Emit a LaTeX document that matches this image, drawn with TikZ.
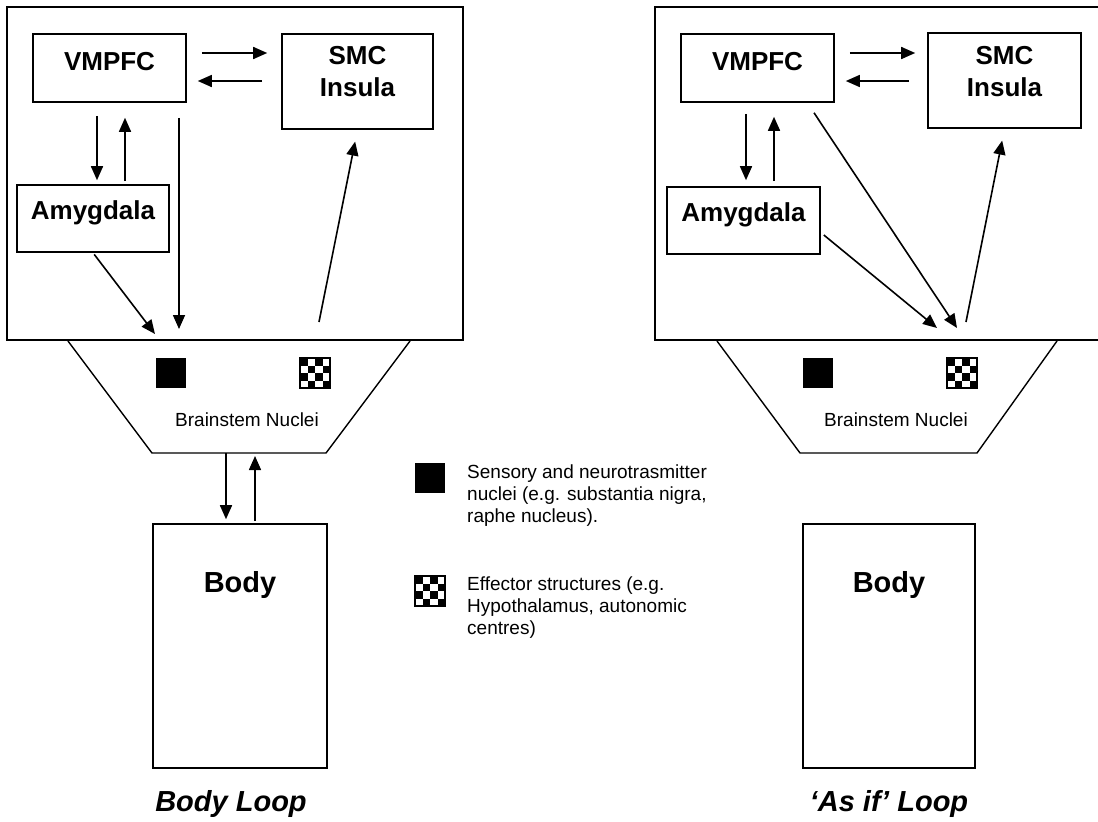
\documentclass[tikz,border=0pt]{standalone}
\usepackage{fontspec}
\setmainfont{Liberation Sans}
\usetikzlibrary{arrows.meta}

\tikzset{
  frame/.style={line width=1.8pt},
  box/.style={draw, line width=1.6pt, inner sep=0pt},
  lbl/.style={font=\fontsize{26pt}{32pt}\selectfont\bfseries, inner sep=0pt, anchor=north, align=center},
  arr/.style={line width=1.6pt, -{Triangle[length=14pt,width=12pt]}},
  stem/.style={line width=1.4pt},
  small/.style={font=\fontsize{19pt}{22pt}\selectfont, inner sep=0pt},
  title/.style={font=\fontsize{29pt}{34pt}\selectfont\bfseries\itshape, inner sep=0pt},
  nuc/.style={fill=black, minimum size=30pt, inner sep=0pt},
  eff/.style={draw, line width=1.5pt, minimum size=30pt, inner sep=0pt,
    path picture={
      \foreach \i in {0,...,3}{
        \foreach \j in {0,...,3}{
          \ifodd\numexpr\i+\j\relax\else
            \fill ([xshift=\i*7.5pt, yshift=-\j*7.5pt]path picture bounding box.north west) rectangle ++(7.5pt,-7.5pt);
          \fi}}}}
}

\begin{document}
\begin{tikzpicture}[x=1pt, y=-1pt]
  \useasboundingbox (0,0) rectangle (1098,822);

  % body loop
  \draw[frame] (7,7) rectangle (463,340);
  \node[box, minimum width=153pt, minimum height=68pt, label={[lbl, yshift=-19pt]north:VMPFC}] (vmL) at (109.5,68) {};
  \node[box, minimum width=151pt, minimum height=95pt, label={[lbl, yshift=-13pt]north:SMC\\Insula}] (smL) at (357.5,81.5) {};
  \node[box, minimum width=152pt, minimum height=67pt, label={[lbl, yshift=-16pt]north:Amygdala}] (amL) at (93,218.5) {};

  \draw[stem] (68,341) -- (152,453) -- (326,453) -- (410,341);
  \coordinate (bsL) at (240,453);
  \coordinate (inL1) at (155,334);
  \coordinate (inL2) at (179,329);
  \coordinate (outL) at (319,322);
  \node[nuc] (nuL) at (170.5,373) {};
  \node[eff] (efL) at (315,373) {};
  \node[small] (bnL) at (247,420) {Brainstem Nuclei};

  \node[box, minimum width=174pt, minimum height=244pt, label={[lbl, font=\fontsize{29pt}{34pt}\selectfont\bfseries, yshift=-48pt]north:Body}] (bodyL) at (240,646) {};
  \node[title] (ttL) at (231,804) {Body Loop};

  \draw[arr, shorten <=15pt, shorten >=14pt] ([yshift=15pt]vmL.east) -- ([yshift=15pt]vmL.east -| smL.west);
  \draw[arr, shorten <=19pt, shorten >=11pt] ([yshift=-13pt]vmL.east -| smL.west) -- ([yshift=-13pt]vmL.east);
  \draw[arr, shorten <=13pt, shorten >=4pt] ([xshift=-12.5pt]vmL.south) -- ([xshift=-12.5pt]vmL.south |- amL.north);
  \draw[arr, shorten <=3pt, shorten >=15pt] ([xshift=15.5pt]vmL.south |- amL.north) -- ([xshift=15.5pt]vmL.south);
  \draw[arr, shorten <=15pt] ([xshift=69.5pt]vmL.south) -- (inL2);
  \draw[arr, shorten <=2pt] (amL.south) -- (inL1);
  \draw[arr, shorten >=12pt] (outL) -- (smL.south);
  \draw[arr, shorten >=4pt] ([xshift=-14pt]bsL) -- ([xshift=-14pt]bsL |- bodyL.north);
  \draw[arr, shorten <=2pt, shorten >=3pt] ([xshift=15pt]bsL |- bodyL.north) -- ([xshift=15pt]bsL);

  % as if loop
  \draw[frame] (655,7) rectangle (1103,340);
  \node[box, minimum width=153pt, minimum height=68pt, label={[lbl, yshift=-19pt]north:VMPFC}] (vmR) at (757.5,68) {};
  \node[box, minimum width=153pt, minimum height=95pt, label={[lbl, yshift=-14pt]north:SMC\\Insula}] (smR) at (1004.5,80.5) {};
  \node[box, minimum width=153pt, minimum height=67pt, label={[lbl, yshift=-16pt]north:Amygdala}] (amR) at (743.5,220.5) {};

  \draw[stem] (717,341) -- (800,453) -- (977,453) -- (1057,341);
  \coordinate (inR1) at (937,328);
  \coordinate (inR2) at (957,328);
  \coordinate (outR) at (966,322);
  \node[nuc] (nuR) at (818,373) {};
  \node[eff] (efR) at (962,373) {};
  \node[small] (bnR) at (896,420) {Brainstem Nuclei};

  \node[box, minimum width=172pt, minimum height=244pt, label={[lbl, font=\fontsize{29pt}{34pt}\selectfont\bfseries, yshift=-48pt]north:Body}] (bodyR) at (889,646) {};
  \node[title] (ttR) at (889,804) {‘As if’ Loop};

  \draw[arr, shorten <=15pt, shorten >=12pt] ([yshift=15pt]vmR.east) -- ([yshift=15pt]vmR.east -| smR.west);
  \draw[arr, shorten <=18pt, shorten >=11pt] ([yshift=-13pt]vmR.east -| smR.west) -- ([yshift=-13pt]vmR.east);
  \draw[arr, shorten <=11pt, shorten >=6pt] ([xshift=-11.5pt]vmR.south) -- ([xshift=-11.5pt]vmR.south |- amR.north);
  \draw[arr, shorten <=5pt, shorten >=14pt] ([xshift=16.5pt]vmR.south |- amR.north) -- ([xshift=16.5pt]vmR.south);
  \draw[arr] ([xshift=56.5pt, yshift=-10pt]vmR.south) -- (inR2);
  \draw[arr] ([xshift=3pt, yshift=-14.5pt]amR.east) -- (inR1);
  \draw[arr, shorten >=12pt] (outR) -- (smR.south);

  % legend
  \node[nuc] (nuK) at (430,478) {};
  \node[small, anchor=north west, align=left] (nuT) at (467,465) {Sensory and neurotrasmitter\\nuclei (e.g. substantia nigra,\\raphe nucleus).};
  \node[eff] (efK) at (430,591) {};
  \node[small, anchor=north west, align=left] (efT) at (467,577) {Effector structures (e.g.\\Hypothalamus, autonomic\\centres)};
\end{tikzpicture}
\end{document}
